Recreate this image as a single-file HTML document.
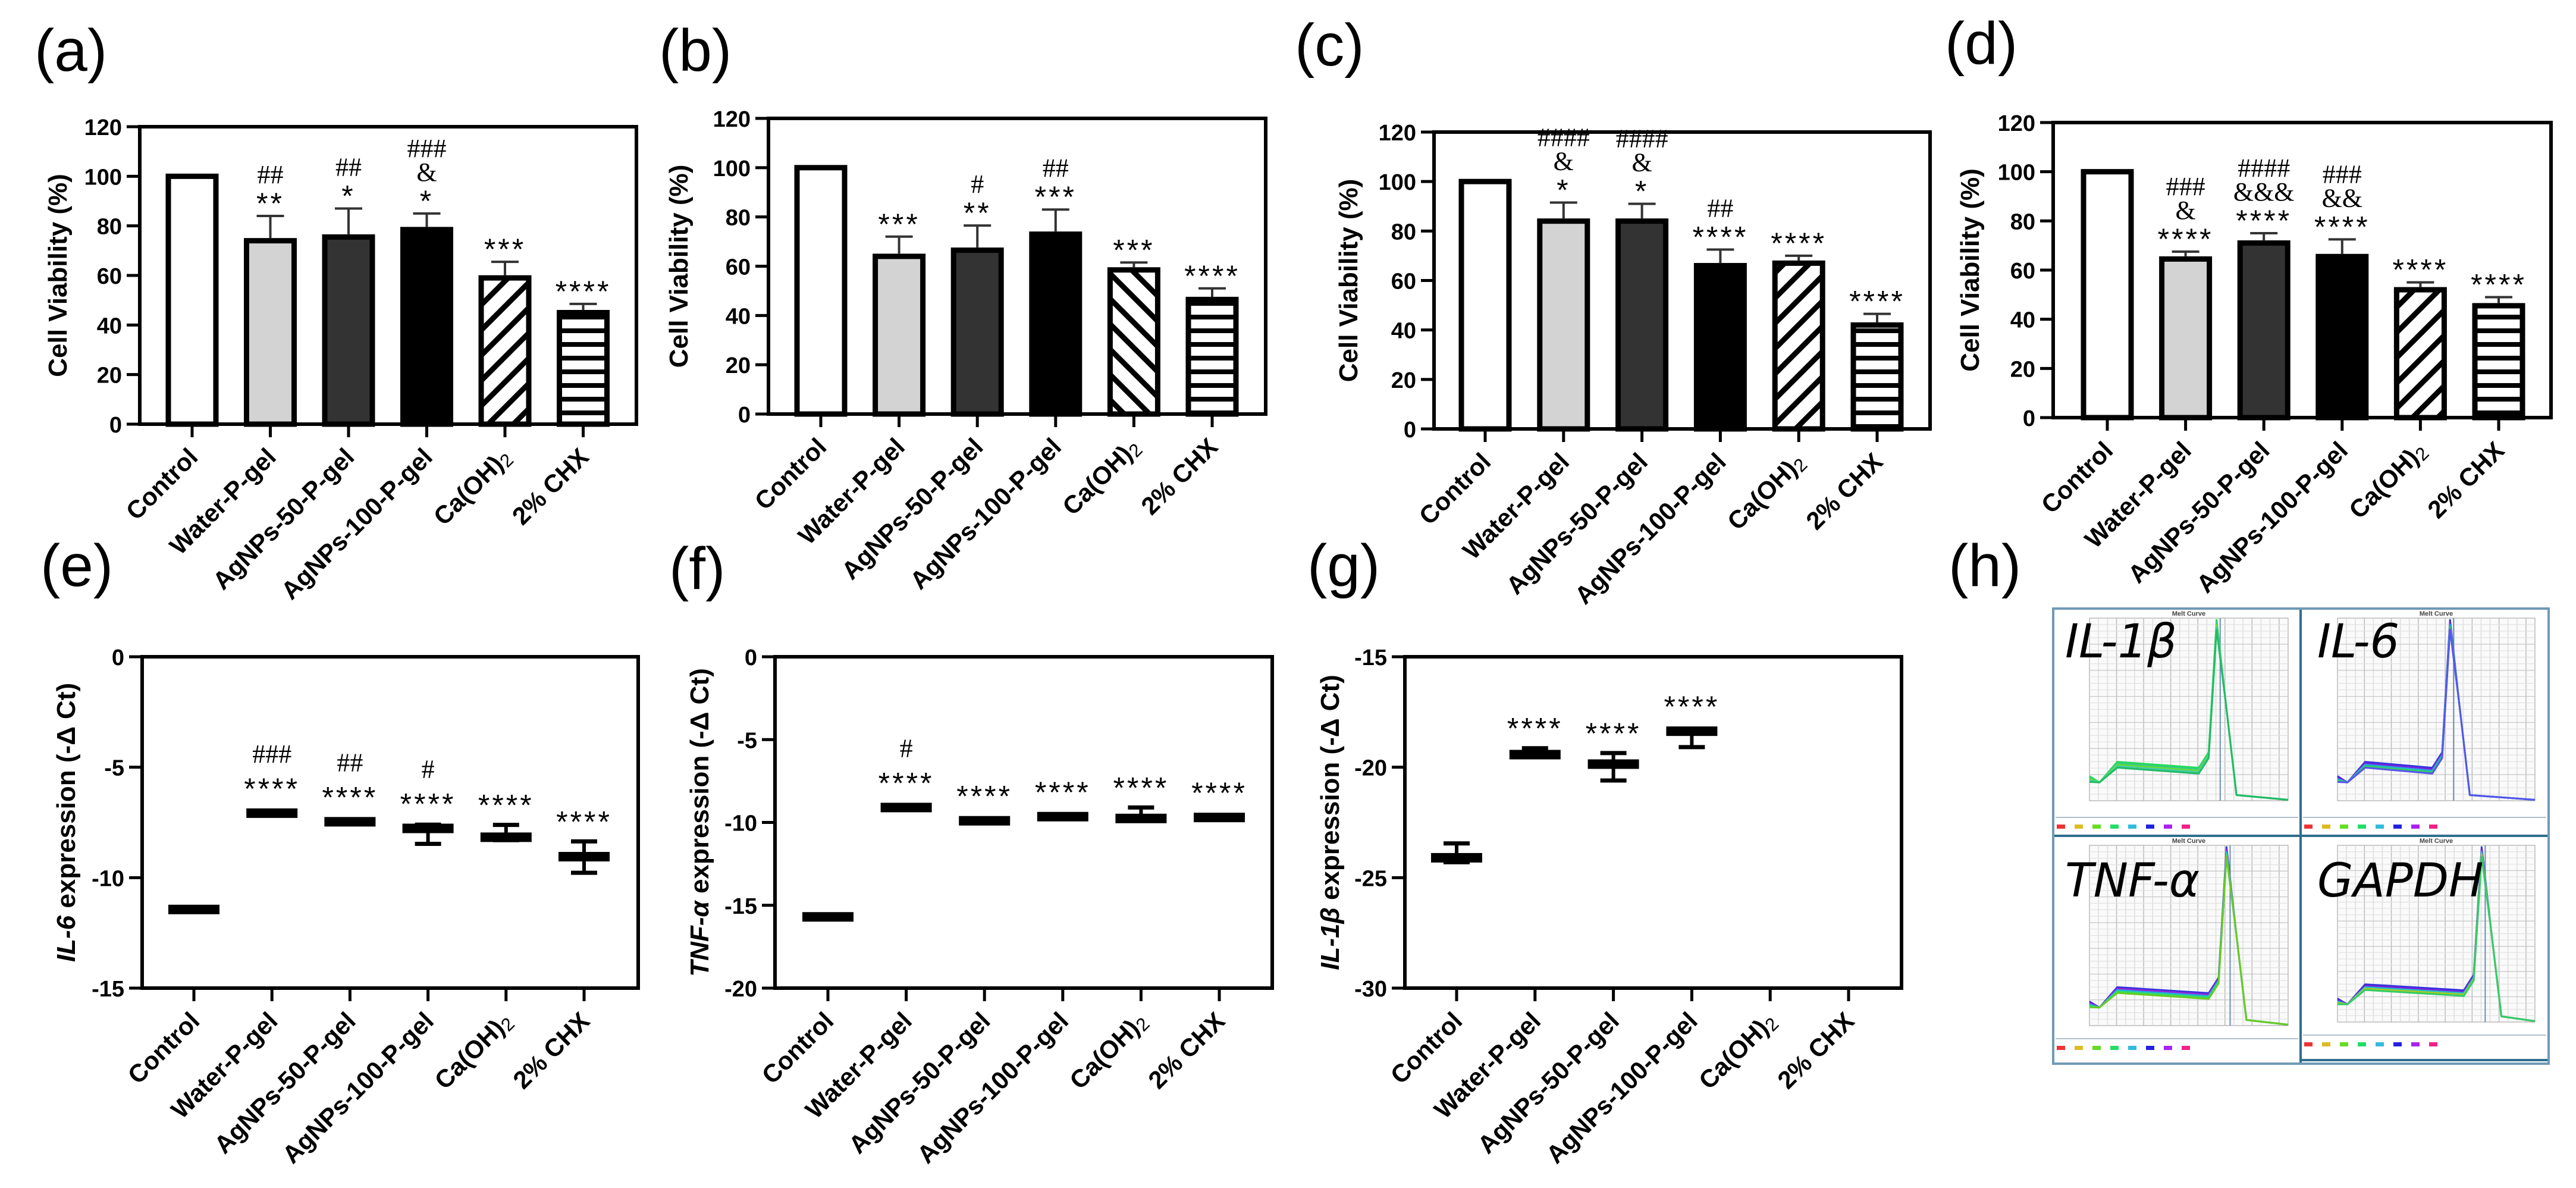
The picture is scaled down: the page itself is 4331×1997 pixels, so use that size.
<!DOCTYPE html>
<html><head><meta charset="utf-8"><style>
html,body{margin:0;padding:0;background:#fff;}
svg{display:block;font-family:"Liberation Sans",Arial,sans-serif;}
</style></head><body>
<svg id="fig" xmlns="http://www.w3.org/2000/svg" width="4331" height="1997" viewBox="0 0 4331 1997">
<defs>
<pattern id="hatchF" patternUnits="userSpaceOnUse" width="30" height="30" patternTransform="rotate(45)"><rect width="30" height="30" fill="#fff"/><rect x="0" y="0" width="9" height="30" fill="#000"/></pattern>
<pattern id="hatchB" patternUnits="userSpaceOnUse" width="30" height="30" patternTransform="rotate(-45)"><rect width="30" height="30" fill="#fff"/><rect x="0" y="0" width="9" height="30" fill="#000"/></pattern>
<pattern id="stripes" patternUnits="userSpaceOnUse" width="20" height="23"><rect width="20" height="23" fill="#fff"/><rect x="0" y="0" width="20" height="8" fill="#000"/></pattern>
</defs>
<g id="root"></g>
</svg>
<script>
// ---------- data ----------
const categories = ["Control","Water-P-gel","AgNPs-50-P-gel","AgNPs-100-P-gel","Ca(OH)2","2% CHX"];
const barTicks = [0,20,40,60,80,100,120];
const aMeans = [100,74,75.5,78.5,59,45];
const aErr = [0,10,11.5,6.5,6.5,3.5];
const aAnn = [[],["**","##"],["*","##"],["*","&","###"],["***"],["****"]];
const bMeans = [100,64,66.5,73,58.5,46.5];
const bErr = [0,8,10,10,3,4.5];
const bAnn = [[],["***"],["**","#"],["***","##"],["***"],["****"]];
const cMeans = [100,84,84,66,67,42];
const cErr = [0,7.5,7,6.5,3,4.5];
const cAnn = [[],["*","&","####"],["*","&","####"],["****","##"],["****"],["****"]];
const dMeans = [100,64.5,71,65.5,52,45.5];
const dErr = [0,3,4,7,3,3.5];
const dAnn = [[],["****","&","###"],["****","&&&","####"],["****","&&","###"],["****"],["****"]];

const eTicks = [0,-5,-10,-15];
const eMeans = [-11.44,-7.08,-7.47,-7.77,-8.17,-9.05];
const eHi = [-11.44,-7.08,-7.47,-7.6,-7.61,-8.36];
const eLo = [-11.44,-7.08,-7.47,-8.47,-8.3,-9.78];
const eAnn = [[],["****","###"],["****","##"],["****","#"],["****"],["****"]];
const fTicks = [0,-5,-10,-15,-20];
const fMeans = [-15.7,-9.1,-9.9,-9.65,-9.76,-9.7];
const fHi = [-15.7,-9.1,-9.9,-9.65,-9.1,-9.7];
const fLo = [-15.7,-9.1,-9.9,-9.65,-9.76,-9.7];
const fAnn = [[],["****","#"],["****"],["****"],["****"],["****"]];
const gTicks = [-15,-20,-25,-30];
const gMeans = [-24.1,-19.43,-19.86,-18.37,null,null];
const gHi = [-23.45,-19.14,-19.36,-18.37,null,null];
const gLo = [-24.3,-19.43,-20.6,-19.09,null,null];
const gAnn = [[],["****"],["****"],["****"],[],[]];

// ---------- helpers ----------
const NS="http://www.w3.org/2000/svg";
const root=document.getElementById('root');
function mk(tag,attrs,parent){const e=document.createElementNS(NS,tag);for(const k in attrs)e.setAttribute(k,attrs[k]);(parent||root).appendChild(e);return e;}
function txt(s,attrs,parent){const t=mk('text',attrs,parent);t.textContent=s;return t;}

function catLabel(g,name,x,y){
  const t=mk('text',{x:x,y:y,'text-anchor':'end','font-size':42,'font-weight':'bold',transform:`rotate(-45 ${x} ${y})`},g);
  
  
  if(name==="Ca(OH)2"){
    const a=mk('tspan',{},t);a.textContent="Ca(OH)";
    const b=mk('tspan',{'font-size':31,'font-weight':'normal',dy:6},t);b.textContent="2";
  } else t.textContent=name;
}

function axes(g,P,ticks,yScale,titleParts,titleX){
  const box=mk('rect',{x:P.L,y:P.T,width:P.R-P.L,height:P.B-P.T,fill:'none',stroke:'#000','stroke-width':6},g);
  
  
  ticks.forEach(v=>{
    const y=yScale(v);
    const tk=mk('line',{x1:P.L-22,x2:P.L,y1:y,y2:y,stroke:'#000','stroke-width':5},g);
    
    
    const lb=txt(String(v),{x:P.L-30,y:y+14,'text-anchor':'end','font-size':38,'font-weight':'bold'},g);
    
    
  });
  categories.forEach((c,i)=>{
    const x=P.L+P.off+i*P.step;
    const tk=mk('line',{x1:x,x2:x,y1:P.B,y2:P.B+22,stroke:'#000','stroke-width':5},g);
    
    
    catLabel(g,c,x+12,P.B+58);
  });
  const cy=(P.T+P.B)/2;
  const t=mk('text',{x:titleX,y:cy,'text-anchor':'middle','font-size':44,'font-weight':'bold',transform:`rotate(-90 ${titleX} ${cy})`,dy:15},g);
  
  
  titleParts.forEach(p=>{const s=mk('tspan',p.it?{'font-style':'italic'}:{},t);s.textContent=p.s;});
}

function annotate(g,x,topY,lines,spacing){
  lines.forEach((s,k)=>{
    const cy=topY-k*spacing;
    const isStar=s[0]==='*';
    const t=txt(s,{x:x,y:isStar?cy+26:cy+15,'text-anchor':'middle','font-size':isStar?50:44,
      'font-family':isStar?'"Liberation Sans",sans-serif':'"Liberation Serif",serif','letter-spacing':isStar?4:0},g);
    
    
  });
}

function panelLabel(s,x,y){
  const t=txt(s,{x:x,y:y,'font-size':100,'font-family':'"Liberation Sans",sans-serif'});
  
  
}

const fills=['#ffffff','#d3d3d3','#333333','#000000',null,'url(#stripes)'];

function barPanel(name,P,means,errs,ann,hatch,titleX){
  const g=mk('g',{});
  
  
  const yS=v=>P.B-(v/120)*(P.B-P.T);
  axes(g,P,barTicks,yS,[{s:"Cell Viability (%)"}],titleX);
  means.forEach((m,i)=>{
    const x=P.L+P.off+i*P.step, w=80;
    const f=i===4?hatch:fills[i];
    const r=mk('rect',{x:x-w/2,y:yS(m),width:w,height:P.B-yS(m),fill:f,stroke:'#000','stroke-width':9},g);
    
    
    if(errs[i]>0){
      const yt=yS(m+errs[i]);
      const l=mk('line',{x1:x,x2:x,y1:yS(m)-4,y2:yt,stroke:'#333','stroke-width':4},g);
      
      
      const c=mk('line',{x1:x-23,x2:x+23,y1:yt,y2:yt,stroke:'#333','stroke-width':4},g);
      
      
    }
    annotate(g,x,yS(m+errs[i])-30,ann[i],40);
  });
}

function dotPanel(name,P,ticks,ymax,ymin,means,hi,lo,ann,titleParts,titleX){
  const g=mk('g',{});
  
  
  const yS=v=>P.T+(ymax-v)/(ymax-ymin)*(P.B-P.T);
  axes(g,P,ticks,yS,titleParts,titleX);
  means.forEach((m,i)=>{
    if(m===null)return;
    const x=P.L+P.off+i*P.step;
    if(hi[i]!==lo[i]){
      const l=mk('line',{x1:x,x2:x,y1:yS(hi[i]),y2:yS(lo[i]),stroke:'#000','stroke-width':6},g);
      
      
      [hi[i],lo[i]].forEach(v=>{
        const c=mk('line',{x1:x-22,x2:x+22,y1:yS(v),y2:yS(v),stroke:'#000','stroke-width':7},g);
        
        
      });
    }
    const r=mk('rect',{x:x-43,y:yS(m)-8,width:86,height:16,fill:'#000'},g);
    
    
    const top=Math.min(yS(m)-8,yS(hi[i]));
    annotate(g,x,top-42,ann[i],50);
  });
}

// ---------- top row ----------
panelLabel("(a)",58,119);
barPanel('panel-a',{L:235,R:1070,T:213,B:713,off:88,step:131.5},aMeans,aErr,aAnn,'url(#hatchF)',97);
panelLabel("(b)",1108,119);
barPanel('panel-b',{L:1292,R:2128,T:199,B:696,off:88,step:131.6},bMeans,bErr,bAnn,'url(#hatchB)',1141);
panelLabel("(c)",2177,110);
barPanel('panel-c',{L:2411,R:3245,T:222,B:721,off:86,step:131.8},cMeans,cErr,cAnn,'url(#hatchF)',2267);
panelLabel("(d)",3270,107);
barPanel('panel-d',{L:3452,R:4289,T:206,B:702,off:91,step:131.6},dMeans,dErr,dAnn,'url(#hatchF)',3312);

// ---------- bottom row ----------
panelLabel("(e)",68,985);
dotPanel('panel-e',{L:239,R:1073,T:1104,B:1661,off:87,step:131.2},eTicks,0,-15,eMeans,eHi,eLo,eAnn,
  [{s:"IL-6",it:true},{s:" expression (-Δ Ct)"}],111);
panelLabel("(f)",1125,990);
dotPanel('panel-f',{L:1303,R:2139,T:1104,B:1661,off:89,step:131.6},fTicks,0,-20,fMeans,fHi,fLo,fAnn,
  [{s:"TNF-α",it:true},{s:"  expression (-Δ Ct)"}],1176);
panelLabel("(g)",2198,985);
dotPanel('panel-g',{L:2362,R:3197,T:1104,B:1661,off:87,step:131.8},gTicks,-15,-30,gMeans,gHi,gLo,gAnn,
  [{s:"IL-1β",it:true},{s:"  expression (-Δ Ct)"}],2236);
panelLabel("(h)",3276,985);

// ---------- panel h : melt curve thumbnails ----------
const meltLabels = ["IL-1β","IL-6","TNF-α","GAPDH"];
const meltPeaks = [0.64,0.57,0.69,0.73];
const meltColors = [["#22dd55","#33cc88","#66dd33","#44ccaa","#22bb66"],
                    ["#3333dd","#7722dd","#22aadd","#33cc66","#5555ee"],
                    ["#3333dd","#9922dd","#22aadd","#33dd66","#66cc22"],
                    ["#3333dd","#7722dd","#22bbcc","#aacc22","#33cc66"]];
const subs=[{x:3452,y:1023,w:416,h:382},{x:3868,y:1023,w:417,h:382},{x:3452,y:1405,w:416,h:383},{x:3868,y:1405,w:417,h:377}];
const gh=mk('g',{});


subs.forEach((s,k)=>{
  const g=mk('g',{},gh);
  
  
  mk('rect',{x:s.x,y:s.y,width:s.w,height:s.h,fill:'#fff',stroke:'#2f6e8e','stroke-width':4},g);
  const px=s.x+(k%2?62:61), py=s.y+16, pw=s.w-(k%2?85:82), ph=s.h-(k<2?75:80);
  mk('rect',{x:px,y:py,width:pw,height:ph,fill:'#fafafa',stroke:'#999','stroke-width':1},g);
  for(let i=1;i<22;i++){mk('line',{x1:px+i*pw/22,x2:px+i*pw/22,y1:py,y2:py+ph,stroke:i%3?'#dddddd':'#bbbbbb','stroke-width':1.5},g);}
  for(let i=1;i<28;i++){mk('line',{x1:px,x2:px+pw,y1:py+i*ph/28,y2:py+i*ph/28,stroke:i%4?'#e2e2e2':'#c4c4c4','stroke-width':1.2},g);}
  const tt=txt("Melt Curve",{x:px+pw/2,y:s.y+12,'text-anchor':'middle','font-size':11,'font-weight':'bold',fill:'#444'},g);
  
  
  const pk=px+meltPeaks[k]*pw;
  mk('line',{x1:pk+6,x2:pk+6,y1:py,y2:py+ph,stroke:'#6a8fb8','stroke-width':2},g);
  meltColors[k].forEach((c,j)=>{
    const base=py+ph*(0.8+j*0.008), dip=py+ph*0.9, top=py+ph*0.01+j*4, end=py+ph*0.995;
    const d=`M${px},${base+20} L${px+pw*0.05},${dip} L${px+pw*0.14},${base-4} L${pk-pw*0.09},${base+6} L${pk-pw*0.04},${base-20} L${pk},${top} L${pk+pw*0.05},${py+ph*0.5} L${pk+pw*0.1},${end-8} L${px+pw},${end}`;
    const p=mk('path',{d:d,fill:'none',stroke:c,'stroke-width':3,'stroke-linejoin':'round'},g);
    
    
  });
  const ly=py+ph+(k<2?44:38);
  mk('line',{x1:s.x+4,x2:s.x+s.w-4,y1:ly-16,y2:ly-16,stroke:'#9ab','stroke-width':1.5},g);
  ["#e33","#db2","#6d2","#2d6","#3bd","#22d","#a2e","#e28"].forEach((c,j)=>{mk('rect',{x:s.x+6+j*30,y:ly-4,width:14,height:7,fill:c},g);});
  const lb=txt(meltLabels[k],{x:s.x+(k%2?28:20),y:s.y+(k<2?82:102),'font-size':78,'font-style':'italic','font-family':'"DejaVu Sans","Liberation Sans",sans-serif',fill:'#000'},g);
  
  
});
const ob=mk('rect',{x:3452,y:1023,width:833,height:765,fill:'none',stroke:'#6f9ab5','stroke-width':4},gh);


</script>
</body></html>
